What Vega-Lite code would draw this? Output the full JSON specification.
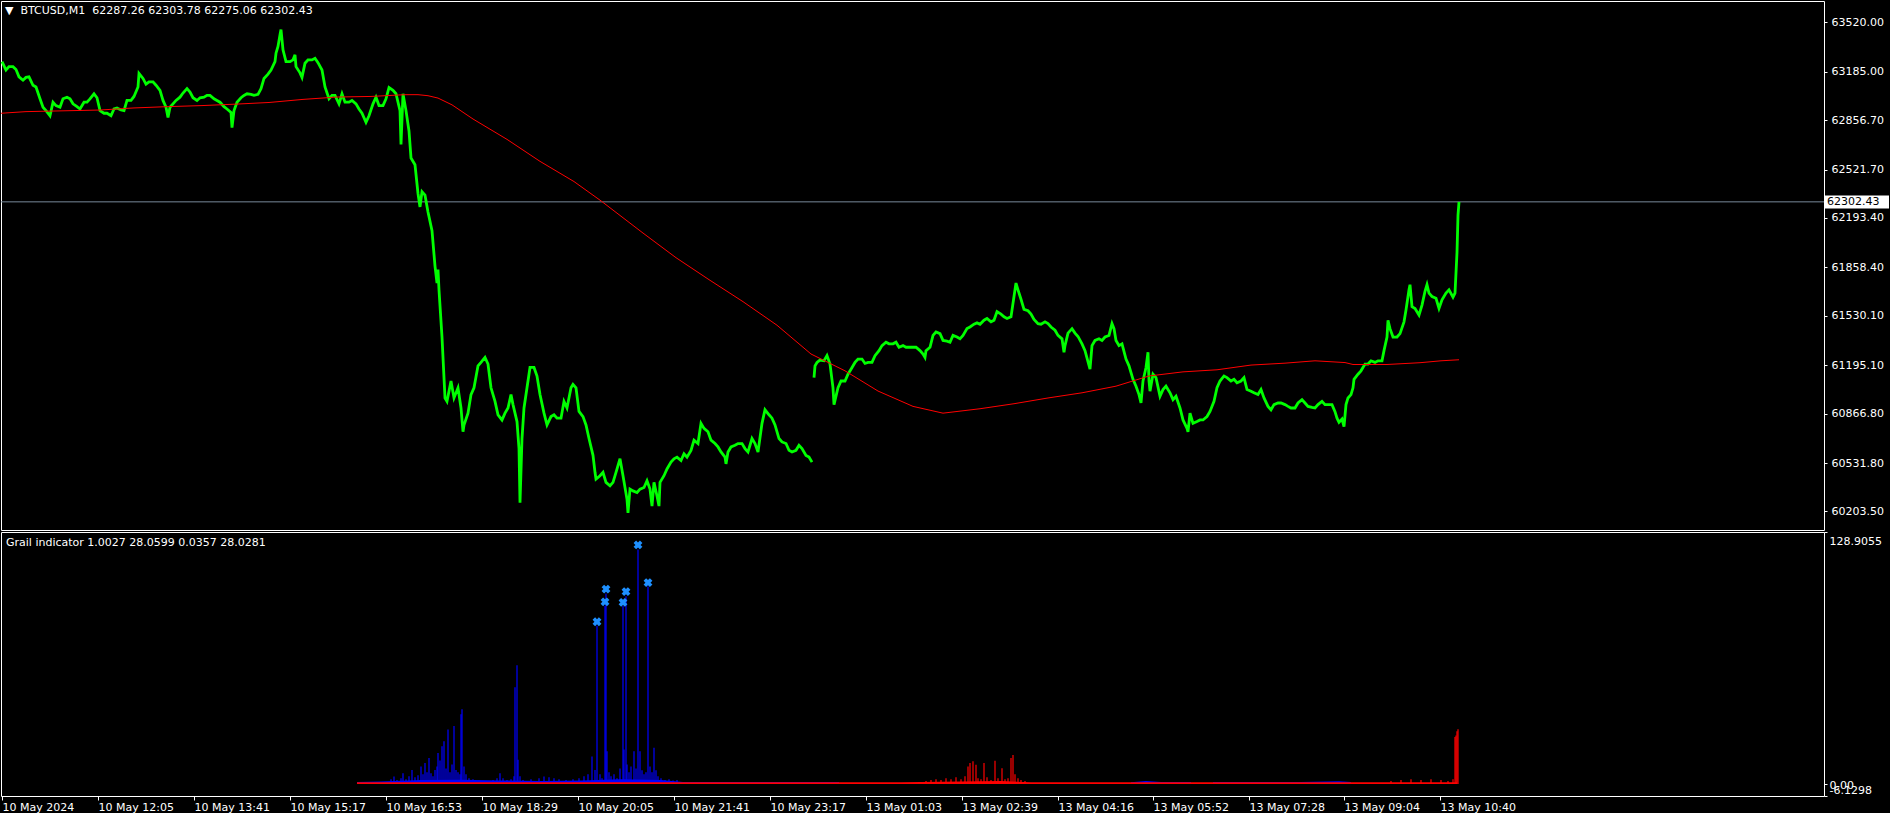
{
"$schema": "https://vega.github.io/schema/vega-lite/v6.json",
"background": "#000000",
"padding": {"left": -5, "top": 0, "right": 0, "bottom": 0},
"spacing": 2,
"bounds": "flush",
"config": {
  "view": {"stroke": "#FFFFFF", "strokeWidth": 1},
  "axis": {"labelFont": "DejaVu Sans", "labelFontSize": 11, "labelColor": "#FFFFFF", "tickColor": "#FFFFFF", "domain": false, "grid": false, "title": null, "labelOverlap": false}
},
"datasets": {
  "price": [
{"b":1,"p":63253,"s":1},{"b":5,"p":63196,"s":1},{"b":8,"p":63219,"s":1},{"b":12,"p":63219,"s":1},{"b":15,"p":63200,"s":1},{"b":18,"p":63150,"s":1},{"b":22,"p":63127,"s":1},{"b":25,"p":63146,"s":1},{"b":28,"p":63150,"s":1},{"b":32,"p":63093,"s":1},{"b":35,"p":63081,"s":1},{"b":39,"p":63001,"s":1},{"b":42,"p":62944,"s":1},{"b":45,"p":62921,"s":1},{"b":49,"p":62886,"s":1},{"b":52,"p":62978,"s":1},{"b":55,"p":62955,"s":1},{"b":59,"p":62944,"s":1},{"b":62,"p":63001,"s":1},{"b":66,"p":63012,"s":1},{"b":69,"p":63001,"s":1},{"b":72,"p":62967,"s":1},{"b":76,"p":62948,"s":1},{"b":79,"p":62932,"s":1},{"b":83,"p":62978,"s":1},{"b":86,"p":62978,"s":1},{"b":89,"p":63001,"s":1},{"b":93,"p":63035,"s":1},{"b":96,"p":63008,"s":1},{"b":99,"p":62921,"s":1},{"b":103,"p":62903,"s":1},{"b":106,"p":62903,"s":1},{"b":110,"p":62886,"s":1},{"b":113,"p":62932,"s":1},{"b":116,"p":62939,"s":1},{"b":120,"p":62925,"s":1},{"b":123,"p":62921,"s":1},{"b":126,"p":62990,"s":1},{"b":130,"p":62990,"s":1},{"b":133,"p":63017,"s":1},{"b":137,"p":63081,"s":1},{"b":138,"p":63173,"s":1},{"b":142,"p":63139,"s":1},{"b":145,"p":63100,"s":1},{"b":148,"p":63116,"s":1},{"b":152,"p":63116,"s":1},{"b":155,"p":63093,"s":1},{"b":159,"p":63058,"s":1},{"b":162,"p":62990,"s":1},{"b":165,"p":62944,"s":1},{"b":167,"p":62875,"s":1},{"b":169,"p":62944,"s":1},{"b":172,"p":62967,"s":1},{"b":175,"p":62990,"s":1},{"b":179,"p":63012,"s":1},{"b":182,"p":63040,"s":1},{"b":186,"p":63070,"s":1},{"b":189,"p":63047,"s":1},{"b":192,"p":63008,"s":1},{"b":196,"p":62990,"s":1},{"b":199,"p":63008,"s":1},{"b":203,"p":63012,"s":1},{"b":206,"p":63024,"s":1},{"b":209,"p":63024,"s":1},{"b":213,"p":63001,"s":1},{"b":216,"p":62990,"s":1},{"b":219,"p":62978,"s":1},{"b":223,"p":62948,"s":1},{"b":226,"p":62932,"s":1},{"b":230,"p":62909,"s":1},{"b":231,"p":62806,"s":1},{"b":233,"p":62921,"s":1},{"b":236,"p":62978,"s":1},{"b":240,"p":63008,"s":1},{"b":243,"p":63024,"s":1},{"b":246,"p":63035,"s":1},{"b":250,"p":63031,"s":1},{"b":253,"p":63024,"s":1},{"b":257,"p":63031,"s":1},{"b":260,"p":63070,"s":1},{"b":263,"p":63139,"s":1},{"b":267,"p":63168,"s":1},{"b":270,"p":63196,"s":1},{"b":274,"p":63253,"s":1},{"b":275,"p":63310,"s":1},{"b":277,"p":63356,"s":1},{"b":279,"p":63436,"s":1},{"b":280,"p":63470,"s":1},{"b":282,"p":63333,"s":1},{"b":285,"p":63253,"s":1},{"b":289,"p":63253,"s":1},{"b":292,"p":63265,"s":1},{"b":294,"p":63299,"s":1},{"b":295,"p":63219,"s":1},{"b":299,"p":63177,"s":1},{"b":301,"p":63146,"s":1},{"b":304,"p":63242,"s":1},{"b":307,"p":63265,"s":1},{"b":311,"p":63265,"s":1},{"b":314,"p":63276,"s":1},{"b":317,"p":63246,"s":1},{"b":321,"p":63196,"s":1},{"b":324,"p":63081,"s":1},{"b":328,"p":63001,"s":1},{"b":331,"p":63024,"s":1},{"b":334,"p":63024,"s":1},{"b":338,"p":62967,"s":1},{"b":341,"p":63035,"s":1},{"b":344,"p":62978,"s":1},{"b":348,"p":62978,"s":1},{"b":351,"p":62990,"s":1},{"b":355,"p":62967,"s":1},{"b":358,"p":62932,"s":1},{"b":361,"p":62903,"s":1},{"b":365,"p":62841,"s":1},{"b":368,"p":62886,"s":1},{"b":372,"p":62967,"s":1},{"b":375,"p":63012,"s":1},{"b":378,"p":62955,"s":1},{"b":382,"p":62955,"s":1},{"b":385,"p":63001,"s":1},{"b":388,"p":63077,"s":1},{"b":392,"p":63058,"s":1},{"b":395,"p":63035,"s":1},{"b":399,"p":62921,"s":1},{"b":400,"p":62692,"s":1},{"b":402,"p":63035,"s":1},{"b":405,"p":62921,"s":1},{"b":408,"p":62783,"s":1},{"b":410,"p":62600,"s":1},{"b":414,"p":62554,"s":1},{"b":417,"p":62359,"s":1},{"b":419,"p":62268,"s":1},{"b":421,"p":62371,"s":1},{"b":424,"p":62348,"s":1},{"b":427,"p":62233,"s":1},{"b":431,"p":62107,"s":1},{"b":434,"p":61867,"s":1},{"b":436,"p":61752,"s":1},{"b":437,"p":61844,"s":1},{"b":438,"p":61706,"s":1},{"b":441,"p":61386,"s":1},{"b":444,"p":60973,"s":1},{"b":446,"p":60950,"s":1},{"b":450,"p":61088,"s":1},{"b":453,"p":60973,"s":1},{"b":457,"p":61042,"s":1},{"b":460,"p":60905,"s":1},{"b":462,"p":60744,"s":1},{"b":463,"p":60790,"s":1},{"b":467,"p":60870,"s":1},{"b":470,"p":60996,"s":1},{"b":473,"p":61042,"s":1},{"b":477,"p":61191,"s":1},{"b":480,"p":61214,"s":1},{"b":484,"p":61248,"s":1},{"b":487,"p":61203,"s":1},{"b":490,"p":61042,"s":1},{"b":494,"p":60950,"s":1},{"b":497,"p":60859,"s":1},{"b":501,"p":60824,"s":1},{"b":504,"p":60870,"s":1},{"b":507,"p":60905,"s":1},{"b":510,"p":60996,"s":1},{"b":512,"p":60928,"s":1},{"b":516,"p":60813,"s":1},{"b":518,"p":60630,"s":1},{"b":519,"p":60263,"s":1},{"b":521,"p":60698,"s":1},{"b":523,"p":60905,"s":1},{"b":526,"p":61042,"s":1},{"b":529,"p":61180,"s":1},{"b":533,"p":61180,"s":1},{"b":536,"p":61122,"s":1},{"b":539,"p":60996,"s":1},{"b":543,"p":60870,"s":1},{"b":546,"p":60790,"s":1},{"b":550,"p":60847,"s":1},{"b":553,"p":60859,"s":1},{"b":556,"p":60836,"s":1},{"b":560,"p":60836,"s":1},{"b":563,"p":60950,"s":1},{"b":566,"p":60905,"s":1},{"b":570,"p":61042,"s":1},{"b":572,"p":61065,"s":1},{"b":575,"p":61042,"s":1},{"b":578,"p":60882,"s":1},{"b":582,"p":60847,"s":1},{"b":585,"p":60790,"s":1},{"b":588,"p":60698,"s":1},{"b":592,"p":60584,"s":1},{"b":594,"p":60469,"s":1},{"b":595,"p":60423,"s":1},{"b":599,"p":60446,"s":1},{"b":602,"p":60469,"s":1},{"b":605,"p":60401,"s":1},{"b":609,"p":60378,"s":1},{"b":612,"p":60401,"s":1},{"b":615,"p":60469,"s":1},{"b":619,"p":60561,"s":1},{"b":622,"p":60446,"s":1},{"b":626,"p":60286,"s":1},{"b":627,"p":60194,"s":1},{"b":629,"p":60355,"s":1},{"b":632,"p":60343,"s":1},{"b":636,"p":60332,"s":1},{"b":639,"p":60355,"s":1},{"b":643,"p":60366,"s":1},{"b":646,"p":60412,"s":1},{"b":649,"p":60355,"s":1},{"b":651,"p":60240,"s":1},{"b":653,"p":60401,"s":1},{"b":656,"p":60309,"s":1},{"b":658,"p":60240,"s":1},{"b":659,"p":60401,"s":1},{"b":663,"p":60446,"s":1},{"b":666,"p":60492,"s":1},{"b":670,"p":60538,"s":1},{"b":673,"p":60561,"s":1},{"b":676,"p":60572,"s":1},{"b":680,"p":60549,"s":1},{"b":683,"p":60595,"s":1},{"b":686,"p":60572,"s":1},{"b":690,"p":60618,"s":1},{"b":693,"p":60687,"s":1},{"b":697,"p":60664,"s":1},{"b":700,"p":60801,"s":1},{"b":703,"p":60767,"s":1},{"b":707,"p":60744,"s":1},{"b":710,"p":60687,"s":1},{"b":714,"p":60664,"s":1},{"b":717,"p":60641,"s":1},{"b":720,"p":60607,"s":1},{"b":724,"p":60572,"s":1},{"b":725,"p":60526,"s":1},{"b":727,"p":60607,"s":1},{"b":730,"p":60641,"s":1},{"b":734,"p":60652,"s":1},{"b":737,"p":60664,"s":1},{"b":741,"p":60664,"s":1},{"b":744,"p":60630,"s":1},{"b":747,"p":60607,"s":1},{"b":751,"p":60698,"s":1},{"b":754,"p":60664,"s":1},{"b":757,"p":60607,"s":1},{"b":761,"p":60801,"s":1},{"b":764,"p":60893,"s":1},{"b":768,"p":60859,"s":1},{"b":771,"p":60836,"s":1},{"b":774,"p":60790,"s":1},{"b":778,"p":60698,"s":1},{"b":781,"p":60675,"s":1},{"b":785,"p":60664,"s":1},{"b":788,"p":60618,"s":1},{"b":791,"p":60607,"s":1},{"b":795,"p":60618,"s":1},{"b":798,"p":60652,"s":1},{"b":801,"p":60630,"s":1},{"b":805,"p":60584,"s":1},{"b":808,"p":60572,"s":1},{"b":811,"p":60538,"s":1},
{"b":813,"p":61111,"s":2},{"b":814,"p":61191,"s":2},{"b":816,"p":61214,"s":2},{"b":819,"p":61230,"s":2},{"b":823,"p":61225,"s":2},{"b":826,"p":61260,"s":2},{"b":829,"p":61203,"s":2},{"b":832,"p":61042,"s":2},{"b":833,"p":60928,"s":2},{"b":837,"p":61042,"s":2},{"b":840,"p":61088,"s":2},{"b":844,"p":61088,"s":2},{"b":847,"p":61134,"s":2},{"b":850,"p":61168,"s":2},{"b":854,"p":61214,"s":2},{"b":857,"p":61237,"s":2},{"b":861,"p":61237,"s":2},{"b":864,"p":61207,"s":2},{"b":867,"p":61214,"s":2},{"b":871,"p":61214,"s":2},{"b":874,"p":61260,"s":2},{"b":878,"p":61294,"s":2},{"b":881,"p":61328,"s":2},{"b":885,"p":61351,"s":2},{"b":888,"p":61340,"s":2},{"b":892,"p":61340,"s":2},{"b":895,"p":61351,"s":2},{"b":898,"p":61317,"s":2},{"b":902,"p":61328,"s":2},{"b":905,"p":61317,"s":2},{"b":908,"p":61317,"s":2},{"b":912,"p":61317,"s":2},{"b":915,"p":61317,"s":2},{"b":919,"p":61294,"s":2},{"b":922,"p":61271,"s":2},{"b":924,"p":61248,"s":2},{"b":925,"p":61294,"s":2},{"b":929,"p":61317,"s":2},{"b":932,"p":61397,"s":2},{"b":935,"p":61420,"s":2},{"b":939,"p":61409,"s":2},{"b":942,"p":61363,"s":2},{"b":946,"p":61358,"s":2},{"b":949,"p":61351,"s":2},{"b":952,"p":61397,"s":2},{"b":956,"p":61386,"s":2},{"b":959,"p":61374,"s":2},{"b":962,"p":61397,"s":2},{"b":966,"p":61443,"s":2},{"b":969,"p":61454,"s":2},{"b":973,"p":61473,"s":2},{"b":976,"p":61482,"s":2},{"b":979,"p":61473,"s":2},{"b":983,"p":61500,"s":2},{"b":986,"p":61512,"s":2},{"b":990,"p":61489,"s":2},{"b":993,"p":61500,"s":2},{"b":996,"p":61558,"s":2},{"b":1000,"p":61541,"s":2},{"b":1003,"p":61523,"s":2},{"b":1006,"p":61512,"s":2},{"b":1010,"p":61523,"s":2},{"b":1013,"p":61661,"s":2},{"b":1015,"p":61752,"s":2},{"b":1017,"p":61706,"s":2},{"b":1020,"p":61642,"s":2},{"b":1023,"p":61574,"s":2},{"b":1027,"p":61564,"s":2},{"b":1030,"p":61541,"s":2},{"b":1033,"p":61505,"s":2},{"b":1037,"p":61477,"s":2},{"b":1040,"p":61473,"s":2},{"b":1044,"p":61489,"s":2},{"b":1047,"p":61477,"s":2},{"b":1050,"p":61454,"s":2},{"b":1054,"p":61432,"s":2},{"b":1057,"p":61397,"s":2},{"b":1061,"p":61374,"s":2},{"b":1063,"p":61283,"s":2},{"b":1064,"p":61328,"s":2},{"b":1067,"p":61413,"s":2},{"b":1071,"p":61443,"s":2},{"b":1074,"p":61413,"s":2},{"b":1077,"p":61390,"s":2},{"b":1081,"p":61340,"s":2},{"b":1084,"p":61294,"s":2},{"b":1089,"p":61168,"s":2},{"b":1091,"p":61328,"s":2},{"b":1094,"p":61363,"s":2},{"b":1098,"p":61374,"s":2},{"b":1101,"p":61363,"s":2},{"b":1104,"p":61386,"s":2},{"b":1108,"p":61397,"s":2},{"b":1111,"p":61477,"s":2},{"b":1113,"p":61443,"s":2},{"b":1115,"p":61363,"s":2},{"b":1118,"p":61328,"s":2},{"b":1121,"p":61340,"s":2},{"b":1125,"p":61237,"s":2},{"b":1128,"p":61191,"s":2},{"b":1132,"p":61099,"s":2},{"b":1135,"p":61053,"s":2},{"b":1138,"p":60996,"s":2},{"b":1140,"p":60939,"s":2},{"b":1142,"p":61088,"s":2},{"b":1145,"p":61180,"s":2},{"b":1147,"p":61283,"s":2},{"b":1148,"p":61088,"s":2},{"b":1149,"p":61019,"s":2},{"b":1152,"p":61134,"s":2},{"b":1155,"p":61111,"s":2},{"b":1159,"p":60985,"s":2},{"b":1162,"p":61030,"s":2},{"b":1165,"p":61053,"s":2},{"b":1169,"p":61008,"s":2},{"b":1172,"p":60962,"s":2},{"b":1175,"p":60985,"s":2},{"b":1179,"p":60905,"s":2},{"b":1182,"p":60824,"s":2},{"b":1186,"p":60767,"s":2},{"b":1187,"p":60744,"s":2},{"b":1189,"p":60870,"s":2},{"b":1192,"p":60801,"s":2},{"b":1196,"p":60813,"s":2},{"b":1199,"p":60824,"s":2},{"b":1202,"p":60824,"s":2},{"b":1206,"p":60847,"s":2},{"b":1209,"p":60882,"s":2},{"b":1213,"p":60950,"s":2},{"b":1216,"p":61042,"s":2},{"b":1219,"p":61088,"s":2},{"b":1223,"p":61122,"s":2},{"b":1226,"p":61111,"s":2},{"b":1230,"p":61088,"s":2},{"b":1233,"p":61099,"s":2},{"b":1236,"p":61076,"s":2},{"b":1240,"p":61088,"s":2},{"b":1243,"p":61111,"s":2},{"b":1246,"p":61030,"s":2},{"b":1250,"p":61019,"s":2},{"b":1253,"p":61008,"s":2},{"b":1257,"p":60996,"s":2},{"b":1260,"p":61030,"s":2},{"b":1263,"p":60973,"s":2},{"b":1267,"p":60916,"s":2},{"b":1270,"p":60893,"s":2},{"b":1273,"p":60928,"s":2},{"b":1277,"p":60939,"s":2},{"b":1280,"p":60939,"s":2},{"b":1284,"p":60928,"s":2},{"b":1287,"p":60916,"s":2},{"b":1290,"p":60905,"s":2},{"b":1294,"p":60905,"s":2},{"b":1297,"p":60939,"s":2},{"b":1301,"p":60962,"s":2},{"b":1304,"p":60939,"s":2},{"b":1307,"p":60916,"s":2},{"b":1311,"p":60909,"s":2},{"b":1314,"p":60905,"s":2},{"b":1317,"p":60928,"s":2},{"b":1321,"p":60950,"s":2},{"b":1324,"p":60928,"s":2},{"b":1328,"p":60928,"s":2},{"b":1331,"p":60928,"s":2},{"b":1334,"p":60880,"s":2},{"b":1336,"p":60836,"s":2},{"b":1338,"p":60808,"s":2},{"b":1341,"p":60830,"s":2},{"b":1343,"p":60778,"s":2},{"b":1345,"p":60928,"s":2},{"b":1347,"p":60973,"s":2},{"b":1350,"p":60996,"s":2},{"b":1352,"p":61042,"s":2},{"b":1353,"p":61099,"s":2},{"b":1357,"p":61134,"s":2},{"b":1360,"p":61157,"s":2},{"b":1364,"p":61203,"s":2},{"b":1367,"p":61203,"s":2},{"b":1370,"p":61225,"s":2},{"b":1374,"p":61214,"s":2},{"b":1377,"p":61225,"s":2},{"b":1381,"p":61225,"s":2},{"b":1383,"p":61294,"s":2},{"b":1386,"p":61386,"s":2},{"b":1387,"p":61500,"s":2},{"b":1389,"p":61443,"s":2},{"b":1392,"p":61386,"s":2},{"b":1396,"p":61386,"s":2},{"b":1399,"p":61409,"s":2},{"b":1403,"p":61489,"s":2},{"b":1405,"p":61569,"s":2},{"b":1408,"p":61706,"s":2},{"b":1409,"p":61741,"s":2},{"b":1411,"p":61592,"s":2},{"b":1414,"p":61580,"s":2},{"b":1418,"p":61535,"s":2},{"b":1421,"p":61603,"s":2},{"b":1424,"p":61695,"s":2},{"b":1426,"p":61741,"s":2},{"b":1428,"p":61684,"s":2},{"b":1431,"p":61661,"s":2},{"b":1435,"p":61649,"s":2},{"b":1438,"p":61580,"s":2},{"b":1441,"p":61638,"s":2},{"b":1445,"p":61684,"s":2},{"b":1448,"p":61706,"s":2},{"b":1452,"p":61656,"s":2},{"b":1454,"p":61684,"s":2},{"b":1456,"p":61959,"s":2},{"b":1457,"p":62211,"s":2},{"b":1458,"p":62302.43,"s":2}
  ],
  "ma": [
{"b":0,"p":62903},{"b":25,"p":62914},{"b":99,"p":62925},{"b":133,"p":62939},{"b":167,"p":62948},{"b":201,"p":62955},{"b":235,"p":62965},{"b":268,"p":62976},{"b":302,"p":62997},{"b":336,"p":63013},{"b":370,"p":63017},{"b":404,"p":63029},{"b":417,"p":63029},{"b":427,"p":63022},{"b":437,"p":63006},{"b":451,"p":62960},{"b":472,"p":62864},{"b":506,"p":62726},{"b":539,"p":62577},{"b":573,"p":62440},{"b":600,"p":62309},{"b":641,"p":62096},{"b":675,"p":61924},{"b":708,"p":61775},{"b":742,"p":61626},{"b":776,"p":61466},{"b":810,"p":61271},{"b":844,"p":61157},{"b":877,"p":61020},{"b":912,"p":60916},{"b":942,"p":60870},{"b":979,"p":60900},{"b":1013,"p":60934},{"b":1047,"p":60973},{"b":1081,"p":61008},{"b":1115,"p":61053},{"b":1148,"p":61122},{"b":1182,"p":61150},{"b":1216,"p":61164},{"b":1250,"p":61196},{"b":1284,"p":61209},{"b":1314,"p":61225},{"b":1344,"p":61213},{"b":1352,"p":61200},{"b":1386,"p":61200},{"b":1419,"p":61212},{"b":1440,"p":61225},{"b":1458,"p":61232}
  ],
  "ind": [
{"b":390,"v":2.5,"s":"u"},{"b":393,"v":3.8,"s":"u"},{"b":396,"v":2.0,"s":"u"},{"b":400,"v":3.0,"s":"u"},{"b":402,"v":5.5,"s":"u"},{"b":405,"v":2.5,"s":"u"},{"b":408,"v":4.0,"s":"u"},{"b":411,"v":7.2,"s":"u"},{"b":414,"v":3.5,"s":"u"},{"b":417,"v":4.5,"s":"u"},{"b":420,"v":8.9,"s":"u"},{"b":422,"v":5.0,"s":"u"},{"b":424,"v":10.7,"s":"u"},{"b":426,"v":6.0,"s":"u"},{"b":428,"v":13.3,"s":"u"},{"b":430,"v":5.5,"s":"u"},{"b":432,"v":4.0,"s":"u"},{"b":434,"v":7.2,"s":"u"},{"b":436,"v":9.0,"s":"u"},{"b":437,"v":15.9,"s":"u"},{"b":439,"v":12.0,"s":"u"},{"b":441,"v":19.3,"s":"u"},{"b":443,"v":21.9,"s":"u"},{"b":445,"v":8.0,"s":"u"},{"b":447,"v":27.9,"s":"u"},{"b":449,"v":6.0,"s":"u"},{"b":451,"v":10.0,"s":"u"},{"b":453,"v":29.7,"s":"u"},{"b":455,"v":7.2,"s":"u"},{"b":457,"v":6.0,"s":"u"},{"b":459,"v":5.0,"s":"u"},{"b":460,"v":35.7,"s":"u"},{"b":461,"v":38.3,"s":"u"},{"b":463,"v":8.9,"s":"u"},{"b":465,"v":5.0,"s":"u"},{"b":468,"v":3.0,"s":"u"},{"b":472,"v":2.5,"s":"u"},{"b":478,"v":1.8,"s":"u"},{"b":485,"v":1.5,"s":"u"},{"b":492,"v":2.0,"s":"u"},{"b":496,"v":3.0,"s":"u"},{"b":499,"v":5.5,"s":"u"},{"b":502,"v":3.0,"s":"u"},{"b":506,"v":2.0,"s":"u"},{"b":510,"v":2.5,"s":"u"},{"b":513,"v":4.0,"s":"u"},{"b":514,"v":49.5,"s":"u"},{"b":516,"v":60.7,"s":"u"},{"b":517,"v":12.4,"s":"u"},{"b":519,"v":4.0,"s":"u"},{"b":522,"v":2.0,"s":"u"},{"b":530,"v":2.5,"s":"u"},{"b":538,"v":3.0,"s":"u"},{"b":543,"v":3.8,"s":"u"},{"b":548,"v":3.5,"s":"u"},{"b":553,"v":3.0,"s":"u"},{"b":558,"v":2.5,"s":"u"},{"b":565,"v":2.0,"s":"u"},{"b":572,"v":2.5,"s":"u"},{"b":578,"v":3.0,"s":"u"},{"b":583,"v":4.0,"s":"u"},{"b":587,"v":5.0,"s":"u"},{"b":591,"v":14.1,"s":"u"},{"b":594,"v":7.2,"s":"u"},{"b":596,"v":81.0,"s":"u"},{"b":599,"v":5.0,"s":"u"},{"b":601,"v":3.0,"s":"u"},{"b":604,"v":91.0,"s":"u"},{"b":605,"v":97.5,"s":"u"},{"b":606,"v":16.7,"s":"u"},{"b":608,"v":6.0,"s":"u"},{"b":610,"v":4.0,"s":"u"},{"b":613,"v":5.0,"s":"u"},{"b":616,"v":3.0,"s":"u"},{"b":619,"v":8.0,"s":"u"},{"b":622,"v":91.0,"s":"u"},{"b":623,"v":17.6,"s":"u"},{"b":625,"v":96.0,"s":"u"},{"b":626,"v":10.0,"s":"u"},{"b":628,"v":6.0,"s":"u"},{"b":630,"v":9.0,"s":"u"},{"b":633,"v":16.7,"s":"u"},{"b":635,"v":8.0,"s":"u"},{"b":637,"v":120.0,"s":"u"},{"b":639,"v":16.7,"s":"u"},{"b":641,"v":7.0,"s":"u"},{"b":643,"v":5.0,"s":"u"},{"b":645,"v":6.0,"s":"u"},{"b":647,"v":101.0,"s":"u"},{"b":649,"v":9.0,"s":"u"},{"b":651,"v":6.0,"s":"u"},{"b":653,"v":18.5,"s":"u"},{"b":655,"v":7.0,"s":"u"},{"b":657,"v":4.0,"s":"u"},{"b":660,"v":3.0,"s":"u"},{"b":664,"v":2.0,"s":"u"},{"b":668,"v":2.5,"s":"u"},{"b":672,"v":1.8,"s":"u"},{"b":676,"v":2.0,"s":"u"},
{"b":925,"v":1.5,"s":"d"},{"b":930,"v":2.0,"s":"d"},{"b":935,"v":2.5,"s":"d"},{"b":940,"v":2.0,"s":"d"},{"b":945,"v":3.0,"s":"d"},{"b":950,"v":2.5,"s":"d"},{"b":955,"v":3.5,"s":"d"},{"b":960,"v":2.5,"s":"d"},{"b":964,"v":4.0,"s":"d"},{"b":967,"v":8.9,"s":"d"},{"b":969,"v":10.7,"s":"d"},{"b":972,"v":11.6,"s":"d"},{"b":975,"v":9.8,"s":"d"},{"b":977,"v":3.0,"s":"d"},{"b":980,"v":2.5,"s":"d"},{"b":983,"v":10.7,"s":"d"},{"b":986,"v":3.5,"s":"d"},{"b":990,"v":2.0,"s":"d"},{"b":994,"v":11.9,"s":"d"},{"b":997,"v":3.0,"s":"d"},{"b":1001,"v":8.1,"s":"d"},{"b":1004,"v":2.5,"s":"d"},{"b":1007,"v":3.0,"s":"d"},{"b":1010,"v":13.3,"s":"d"},{"b":1012,"v":14.8,"s":"d"},{"b":1014,"v":5.0,"s":"d"},{"b":1017,"v":3.0,"s":"d"},{"b":1020,"v":2.0,"s":"d"},{"b":1024,"v":1.5,"s":"d"},{"b":1390,"v":1.5,"s":"d"},{"b":1400,"v":2.0,"s":"d"},{"b":1410,"v":2.5,"s":"d"},{"b":1420,"v":2.0,"s":"d"},{"b":1430,"v":2.5,"s":"d"},{"b":1440,"v":2.0,"s":"d"},{"b":1447,"v":1.5,"s":"d"},{"b":1452,"v":2.5,"s":"d"},{"b":1454,"v":24.0,"s":"d"},{"b":1455,"v":24.8,"s":"d"},{"b":1456,"v":27.0,"s":"d"},{"b":1457,"v":28.0,"s":"d"}
  ],
  "base": [
{"b":356,"v":1.0,"s":"u","g":"u1"},{"b":380,"v":1.3,"s":"u","g":"u1"},{"b":420,"v":2.0,"s":"u","g":"u1"},{"b":460,"v":2.2,"s":"u","g":"u1"},{"b":500,"v":1.8,"s":"u","g":"u1"},{"b":540,"v":1.6,"s":"u","g":"u1"},{"b":580,"v":1.8,"s":"u","g":"u1"},{"b":620,"v":2.5,"s":"u","g":"u1"},{"b":660,"v":2.0,"s":"u","g":"u1"},{"b":682,"v":1.0,"s":"u","g":"u1"},{"b":760,"v":1.0,"s":"u","g":"u1"},{"b":838,"v":1.0,"s":"u","g":"u1"},
{"b":1130,"v":0.9,"s":"u","g":"u2"},{"b":1145,"v":1.6,"s":"u","g":"u2"},{"b":1160,"v":1.0,"s":"u","g":"u2"},{"b":1190,"v":1.0,"s":"u","g":"u2"},
{"b":1212,"v":1.0,"s":"u","g":"u3"},{"b":1300,"v":1.0,"s":"u","g":"u3"},{"b":1338,"v":1.4,"s":"u","g":"u3"},{"b":1350,"v":1.0,"s":"u","g":"u3"},
{"b":356,"v":0.9,"s":"d","g":"d1"},{"b":700,"v":0.9,"s":"d","g":"d1"},{"b":900,"v":0.9,"s":"d","g":"d1"},{"b":1000,"v":1.5,"s":"d","g":"d1"},{"b":1030,"v":0.9,"s":"d","g":"d1"},{"b":1380,"v":0.9,"s":"d","g":"d1"},{"b":1456,"v":0.9,"s":"d","g":"d1"}
  ],
  "arrows": [
{"b":596,"v":83.0},{"b":604,"v":93.2},{"b":605,"v":99.7},{"b":622,"v":92.9},{"b":625,"v":98.4},{"b":637,"v":122.3},{"b":647,"v":103.0}
  ]
},
"vconcat": [
  {
    "width": 1823,
    "height": 529,
    "layer": [
      {
        "data": {"values": [{"p": 62302.43}]},
        "mark": {"type": "rule", "color": "#778899", "strokeWidth": 1},
        "encoding": {"y": {"field": "p", "type": "quantitative"}}
      },
      {
        "data": {"name": "price"},
        "mark": {"type": "line", "color": "#00FF00", "strokeWidth": 2.8},
        "encoding": {
          "x": {"field": "b", "type": "quantitative", "scale": {"domain": [0, 1823], "nice": false, "zero": false}, "axis": null},
          "y": {"field": "p", "type": "quantitative", "scale": {"domain": [60078, 63664], "nice": false, "zero": false},
                "axis": {"orient": "right", "values": [63520, 63185, 62856.7, 62521.7, 62193.4, 61858.4, 61530.1, 61195.1, 60866.8, 60531.8, 60203.5], "format": ".2f", "tickSize": 3, "labelPadding": 4}},
          "detail": {"field": "s", "type": "nominal"}
        }
      },
      {
        "data": {"name": "ma"},
        "mark": {"type": "line", "color": "#FF0000", "strokeWidth": 1},
        "encoding": {
          "x": {"field": "b", "type": "quantitative", "axis": null},
          "y": {"field": "p", "type": "quantitative"}
        }
      },
      {
        "data": {"values": [{"p": 62302.43}]},
        "mark": {"type": "rect", "color": "#FFFFFF"},
        "encoding": {
          "x": {"datum": 1824, "type": "quantitative", "axis": null},
          "x2": {"datum": 1888},
          "y": {"datum": 62346, "type": "quantitative"},
          "y2": {"datum": 62258}
        }
      },
      {
        "data": {"values": [{"p": 62302.43, "t": "62302.43"}]},
        "mark": {"type": "text", "color": "#000000", "align": "left", "baseline": "middle", "font": "DejaVu Sans", "fontSize": 11},
        "encoding": {
          "x": {"datum": 1826, "type": "quantitative", "axis": null},
          "y": {"field": "p", "type": "quantitative"},
          "text": {"field": "t"}
        }
      },
      {
        "data": {"values": [{"t": "▼\u00a0\u00a0BTCUSD,M1\u00a0\u00a062287.26 62303.78 62275.06 62302.43"}]},
        "mark": {"type": "text", "color": "#FFFFFF", "align": "left", "baseline": "middle", "font": "DejaVu Sans", "fontSize": 11},
        "encoding": {
          "x": {"datum": 4, "type": "quantitative", "axis": null},
          "y": {"datum": 63594, "type": "quantitative"},
          "text": {"field": "t"}
        }
      }
    ]
  },
  {
    "width": 1823,
    "height": 264,
    "layer": [
      {
        "data": {"name": "base"},
        "transform": [{"filter": "datum.s == 'u'"}],
        "mark": {"type": "area", "color": "#0000FF"},
        "encoding": {
          "x": {"field": "b", "type": "quantitative", "scale": {"domain": [0, 1823], "nice": false, "zero": false},
                "axis": {"orient": "bottom", "values": [1, 97, 193, 289, 385, 481, 577, 673, 769, 865, 961, 1057, 1152, 1248, 1343, 1439],
                         "labelExpr": "['10 May 2024','10 May 12:05','10 May 13:41','10 May 15:17','10 May 16:53','10 May 18:29','10 May 20:05','10 May 21:41','10 May 23:17','13 May 01:03','13 May 02:39','13 May 04:16','13 May 05:52','13 May 07:28','13 May 09:04','13 May 10:40'][indexof([1,97,193,289,385,481,577,673,769,865,961,1057,1152,1248,1343,1439], datum.value)]",
                         "labelAlign": "left", "tickSize": 4, "labelPadding": 1, "labelBound": false, "labelFlush": false}},
          "y": {"field": "v", "type": "quantitative", "scale": {"domain": [-6.1298, 128.9055], "nice": false, "zero": false},
                "axis": {"orient": "right", "values": [128.9055, 0, -6.1298], "tickSize": 3, "labelPadding": 2,
                         "labelExpr": "datum.value == 0 ? '0.00' : (datum.value < 0 ? '-6.1298' : '128.9055')",
                         "labelBaseline": {"condition": {"test": "datum.value > 100", "value": "top"}, "value": "bottom"},
                         "labelOffset": {"condition": [{"test": "datum.value == 0", "value": 6}, {"test": "datum.value < 0", "value": -1}], "value": 3}}},
          "y2": {"datum": 0},
          "detail": {"field": "g", "type": "nominal"}
        }
      },
      {
        "data": {"name": "ind"},
        "transform": [{"filter": "datum.s == 'u'"}],
        "mark": {"type": "rule", "color": "#0000FF", "strokeWidth": 1.2},
        "encoding": {
          "x": {"field": "b", "type": "quantitative"},
          "y": {"field": "v", "type": "quantitative"},
          "y2": {"datum": 0}
        }
      },
      {
        "data": {"name": "base"},
        "transform": [{"filter": "datum.s == 'd'"}],
        "mark": {"type": "area", "color": "#FF0000"},
        "encoding": {
          "x": {"field": "b", "type": "quantitative"},
          "y": {"field": "v", "type": "quantitative"},
          "y2": {"datum": 0},
          "detail": {"field": "g", "type": "nominal"}
        }
      },
      {
        "data": {"name": "ind"},
        "transform": [{"filter": "datum.s == 'd'"}],
        "mark": {"type": "rule", "color": "#FF0000", "strokeWidth": 1.2},
        "encoding": {
          "x": {"field": "b", "type": "quantitative"},
          "y": {"field": "v", "type": "quantitative"},
          "y2": {"datum": 0}
        }
      },
      {
        "data": {"name": "arrows"},
        "mark": {"type": "point", "shape": "cross", "angle": 45, "filled": true, "color": "#1E90FF", "size": 80, "opacity": 1},
        "encoding": {
          "x": {"field": "b", "type": "quantitative"},
          "y": {"field": "v", "type": "quantitative"}
        }
      },
      {
        "data": {"values": [{"t": "Grail indicator 1.0027 28.0599 0.0357 28.0281"}]},
        "mark": {"type": "text", "color": "#FFFFFF", "align": "left", "baseline": "middle", "font": "DejaVu Sans", "fontSize": 11},
        "encoding": {
          "x": {"datum": 5, "type": "quantitative"},
          "y": {"datum": 123.1, "type": "quantitative"},
          "text": {"field": "t"}
        }
      }
    ]
  }
]
}
